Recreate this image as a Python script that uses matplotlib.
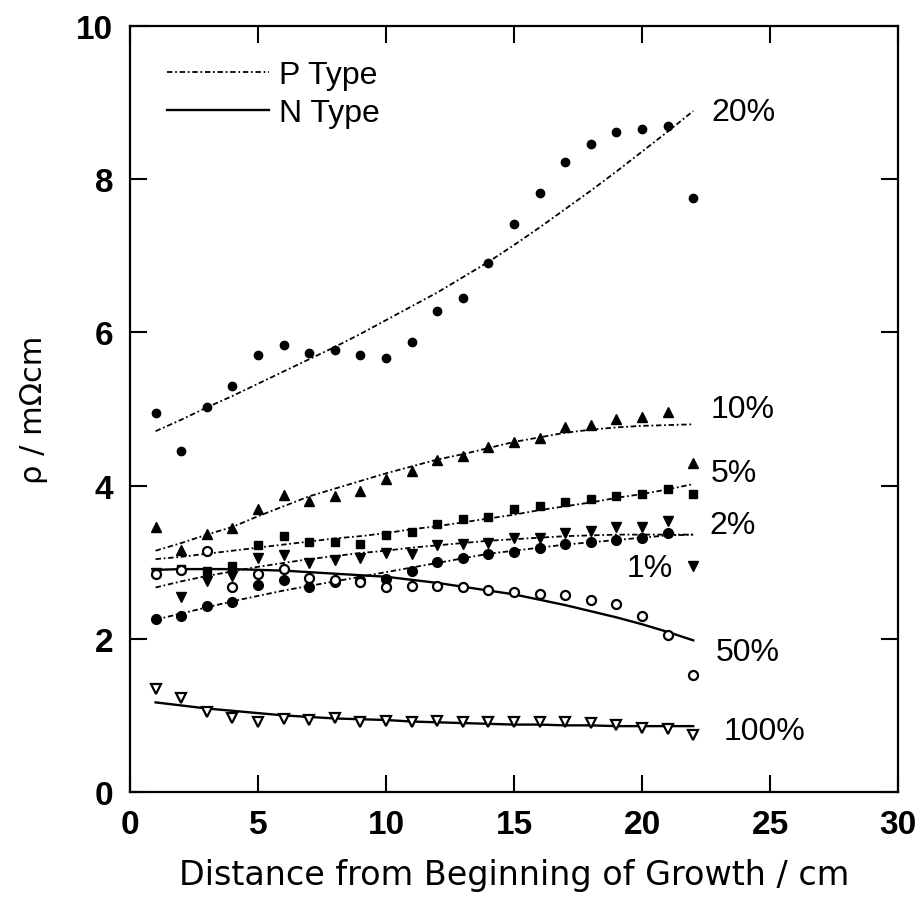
import numpy as np
import matplotlib
matplotlib.use("Agg")
import matplotlib.pyplot as plt
from matplotlib.lines import Line2D

# distance from beginning of growth [cm]
x = np.arange(1, 23)

p20 = [4.95, 4.45, 5.03, 5.30, 5.70, 5.83, 5.73, 5.77, 5.70, 5.67, 5.87, 6.28,
       6.45, 6.90, 7.41, 7.82, 8.23, 8.46, 8.62, 8.66, 8.69, 7.75]
p10 = [3.46, 3.16, 3.37, 3.44, 3.69, 3.88, 3.80, 3.87, 3.93, 4.08, 4.19, 4.34,
       4.39, 4.50, 4.57, 4.62, 4.76, 4.79, 4.87, 4.90, 4.96, 4.30]
p5 = [2.86, 2.91, 2.88, 2.95, 3.22, 3.34, 3.26, 3.26, 3.24, 3.35, 3.39, 3.50,
      3.56, 3.59, 3.69, 3.74, 3.78, 3.83, 3.86, 3.89, 3.96, 3.89]
p2 = [2.86, 2.55, 2.76, 2.82, 3.05, 3.09, 2.99, 3.03, 3.05, 3.12, 3.11, 3.23,
      3.24, 3.25, 3.31, 3.31, 3.38, 3.41, 3.46, 3.46, 3.54, 2.95]
p1 = [2.26, 2.30, 2.43, 2.48, 2.70, 2.77, 2.67, 2.74, 2.77, 2.78, 2.88, 3.00,
      3.05, 3.11, 3.13, 3.19, 3.24, 3.26, 3.29, 3.31, 3.38]
n50 = [2.85, 2.90, 3.14, 2.67, 2.85, 2.91, 2.79, 2.77, 2.74, 2.67, 2.69, 2.69,
       2.67, 2.64, 2.61, 2.59, 2.57, 2.51, 2.45, 2.30, 2.05, 1.53]
n100 = [1.35, 1.23, 1.05, 0.97, 0.92, 0.95, 0.94, 0.96, 0.91, 0.93, 0.92, 0.93,
        0.92, 0.91, 0.91, 0.91, 0.91, 0.90, 0.87, 0.84, 0.82, 0.74]

# fitted curves, read at the same x positions
c20 = [4.71, 4.86, 5.02, 5.17, 5.33, 5.49, 5.65, 5.81, 5.98, 6.16, 6.34, 6.52,
       6.72, 6.92, 7.14, 7.37, 7.61, 7.85, 8.10, 8.36, 8.62, 8.89]
c10 = [3.15, 3.25, 3.36, 3.46, 3.60, 3.73, 3.86, 3.96, 4.06, 4.16, 4.25, 4.34,
       4.41, 4.49, 4.57, 4.63, 4.69, 4.73, 4.76, 4.78, 4.79, 4.80]
c5 = [3.04, 3.07, 3.11, 3.15, 3.19, 3.23, 3.27, 3.31, 3.34, 3.38, 3.43, 3.47,
      3.52, 3.57, 3.62, 3.68, 3.73, 3.78, 3.84, 3.89, 3.95, 4.02]
c2 = [2.67, 2.75, 2.82, 2.88, 2.94, 2.99, 3.04, 3.08, 3.12, 3.15, 3.19, 3.22,
      3.25, 3.28, 3.30, 3.32, 3.34, 3.35, 3.36, 3.36, 3.36, 3.36]
c1 = [2.25, 2.33, 2.41, 2.49, 2.56, 2.63, 2.69, 2.75, 2.81, 2.87, 2.93, 2.99,
      3.05, 3.11, 3.15, 3.19, 3.23, 3.26, 3.29, 3.32, 3.35, 3.36]
c50 = [2.90, 2.91, 2.91, 2.91, 2.90, 2.89, 2.87, 2.85, 2.83, 2.81, 2.77, 2.73,
       2.68, 2.63, 2.58, 2.51, 2.44, 2.36, 2.28, 2.19, 2.09, 1.98]
c100 = [1.17, 1.13, 1.09, 1.06, 1.03, 1.00, 0.98, 0.96, 0.95, 0.94, 0.92, 0.91,
        0.90, 0.89, 0.88, 0.88, 0.87, 0.87, 0.86, 0.86, 0.86, 0.86]

labels = ["20%", "10%", "5%", "2%", "1%", "50%", "100%"]
label_x = [22.7, 22.7, 22.7, 22.65, 19.4, 22.9, 23.2]
label_y = [8.88, 5.00, 4.17, 3.48, 2.93, 1.83, 0.80]

P_STYLE = (0, (3, 1.5, 1, 1.5))
SANS = ["Liberation Sans", "DejaVu Sans"]

fig = plt.figure(figsize=(9.21, 9.04), dpi=100)
ax = fig.add_axes([130 / 921, 1 - 793 / 904, 768 / 921, 766 / 904])

# P type curves (dotted) and N type curves (solid)
for c in (c20, c10, c5, c2, c1):
    ax.plot(x, c, color="black", lw=1.3, ls=P_STYLE)
for c in (c50, c100):
    ax.plot(x, c, color="black", lw=1.7, ls="-")

mk = dict(color="black", ls="none")
ax.plot(x, p20, marker="o", ms=6, **mk)
ax.plot(x, p10, marker="^", ms=7, **mk)
ax.plot(x, p5, marker="s", ms=6, **mk)
ax.plot(x, p2, marker="v", ms=7, **mk)
ax.plot(x[:len(p1)], p1, marker="o", ms=7, **mk)
ax.plot(x, n50, marker="o", ms=6.5, mfc="white", mew=1.6, **mk)
ax.plot(x, n100, marker="v", ms=6.5, mfc="white", mew=1.6, **mk)

for t, tx, ty in zip(labels, label_x, label_y):
    ax.text(tx, ty, t, ha="left", va="center", fontsize=23, family=SANS)

handles = [Line2D([], [], color="black", lw=1.3, ls=P_STYLE),
           Line2D([], [], color="black", lw=1.7)]
ax.legend(handles, ["P Type", "N Type"], loc="upper left",
          bbox_to_anchor=(0.048, 0.956), frameon=False, borderpad=0,
          borderaxespad=0, handlelength=3.2, handletextpad=0.3,
          labelspacing=0.25, prop={"family": SANS, "size": 23})

ax.set_xlim(0, 30)
ax.set_ylim(0, 10)
ax.set_xticks([0, 5, 10, 15, 20, 25, 30])
ax.set_yticks([0, 2, 4, 6, 8, 10])
ax.tick_params(direction="in", length=12, width=1.5, pad=12,
               top=True, right=True, labelsize=24)
for lab in ax.get_xticklabels() + ax.get_yticklabels():
    lab.set_family(SANS)
    lab.set_fontweight("bold")
for s in ax.spines.values():
    s.set_linewidth(1.6)

ax.set_xlabel("Distance from Beginning of Growth / cm", fontsize=24,
              family="DejaVu Sans", labelpad=13)
ax.set_ylabel("ρ / mΩcm", fontsize=22, family="DejaVu Sans", labelpad=20)

fig.savefig("out.png", dpi=100)
